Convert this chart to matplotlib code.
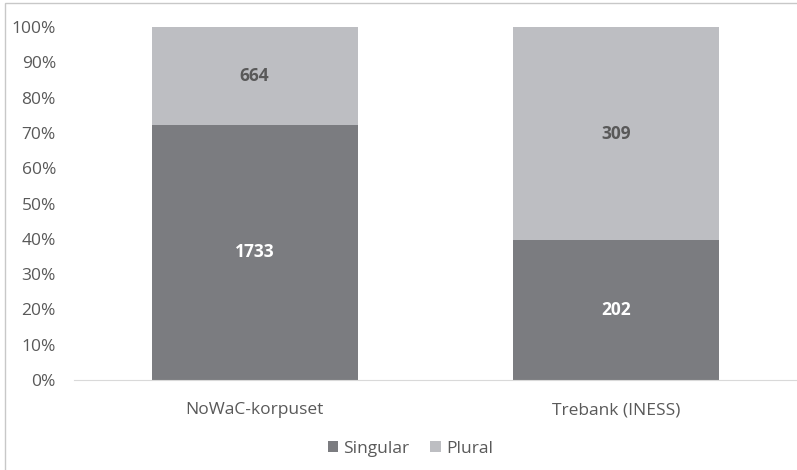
import numpy as np
import matplotlib.pyplot as plt
from matplotlib.patches import Rectangle
from matplotlib.ticker import PercentFormatter

plt.rcParams['font.family'] = ['Open Sans', 'DejaVu Sans']

categories = ["NoWaC-korpuset", "Trebank (INESS)"]
singular = np.array([1733, 202])
plural = np.array([664, 309])

total = singular + plural
sing_pct = singular / total * 100
plur_pct = plural / total * 100

col_sing = "#7b7c80"
col_plur = "#bdbec2"
txt = "#595959"

fig = plt.figure(figsize=(7.97, 4.70), dpi=100)
ax = fig.add_axes([0.0928, 0.1915, 0.907, 0.751])

x = np.arange(len(categories))
w = 0.57
ax.bar(x, sing_pct, w, color=col_sing, label="Singular", zorder=2)
ax.bar(x, plur_pct, w, bottom=sing_pct, color=col_plur, label="Plural", zorder=2)

for i in range(len(x)):
    ax.text(x[i], sing_pct[i] / 2, str(singular[i]), ha="center", va="center",
            color="white", fontsize=12.5, fontweight="bold")
    ax.text(x[i], sing_pct[i] + plur_pct[i] / 2, str(plural[i]), ha="center", va="center",
            color=txt, fontsize=12.5, fontweight="bold")

ax.set_xlim(-0.5, 1.5)
ax.set_ylim(0, 100)
ax.set_yticks(np.arange(0, 101, 10))
ax.yaxis.set_major_formatter(PercentFormatter(decimals=0))
ax.set_xticks(x)
ax.set_xticklabels(categories)
ax.tick_params(axis="both", length=0, colors=txt, labelsize=12.5)
ax.tick_params(axis="x", pad=16)
ax.tick_params(axis="y", pad=13)
for s in ["top", "right", "left"]:
    ax.spines[s].set_visible(False)
ax.spines["bottom"].set_color("#d9d9d9")

leg = fig.legend(loc="center", bbox_to_anchor=(0.515, 0.045), ncol=2, frameon=False,
                 fontsize=12.5, handlelength=0.6, handleheight=0.6, columnspacing=1.2,
                 handletextpad=0.3)
for t in leg.get_texts():
    t.set_color(txt)

fig.patches.append(Rectangle((0.006, -0.01), 1.1, 1.004, transform=fig.transFigure,
                             fill=False, edgecolor="#c8c8c8", linewidth=1))

fig.savefig("out.png", dpi=100)
